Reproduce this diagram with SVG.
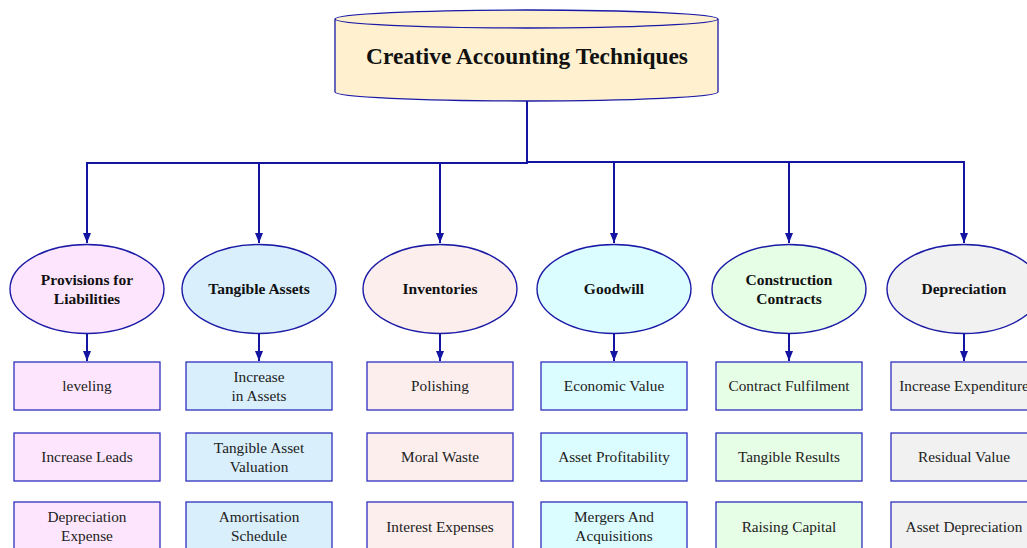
<svg xmlns="http://www.w3.org/2000/svg" width="1027" height="548" viewBox="0 0 1027 548">
<style>
.conn{fill:none;stroke:#1414a3;stroke-width:2}
.ell{stroke:#1a1aa6;stroke-width:1.4}
.box{stroke:#2f2fbd;stroke-width:1.3}
.c1{fill:#fde6fd}.c2{fill:#d9effc}.c3{fill:#fdeeee}.c4{fill:#dcfdff}.c5{fill:#e6fde6}.c6{fill:#f1f1f1}
</style>
<defs>
<marker id="ah" markerUnits="userSpaceOnUse" markerWidth="10" markerHeight="8" refX="10" refY="4" orient="auto">
<path d="M0,0 L10,4 L0,8 z" fill="#1414a3"/>
</marker>
</defs>
<rect width="1027" height="548" fill="#fff"/>
<g id="connectors">
<path class="conn" d="M527,101 V163 H87 V243" marker-end="url(#ah)"/>
<path class="conn" d="M527,163 H259 V243" marker-end="url(#ah)"/>
<path class="conn" d="M527,163 H440 V243" marker-end="url(#ah)"/>
<path class="conn" d="M527,162 H614 V243" marker-end="url(#ah)"/>
<path class="conn" d="M527,162 H789 V243" marker-end="url(#ah)"/>
<path class="conn" d="M527,162 H964 V243" marker-end="url(#ah)"/>
<path class="conn" d="M87,334 V361" marker-end="url(#ah)"/>
<path class="conn" d="M259,334 V361" marker-end="url(#ah)"/>
<path class="conn" d="M440,334 V361" marker-end="url(#ah)"/>
<path class="conn" d="M614,334 V361" marker-end="url(#ah)"/>
<path class="conn" d="M789,334 V361" marker-end="url(#ah)"/>
<path class="conn" d="M964,334 V361" marker-end="url(#ah)"/>
</g>
<g id="root">
<path d="M335,19 V92 A191.5,9 0 0 0 718,92 V19" fill="#fff1cf" stroke="#1a1aa6" stroke-width="1.3"/>
<ellipse cx="526.5" cy="19" rx="191.5" ry="9" fill="#fff1cf" stroke="#1a1aa6" stroke-width="1.3"/>
<text x="527" y="64" font-family="Liberation Serif" font-size="23.4" font-weight="bold" fill="#111" text-anchor="middle">Creative Accounting Techniques</text>
</g>
<g id="n1">
<ellipse class="ell c1" cx="87" cy="289" rx="77" ry="44.5"/>
<text x="87" y="285" font-family="Liberation Serif" font-size="15.5" font-weight="bold" fill="#111" text-anchor="middle">Provisions for</text>
<text x="87" y="304" font-family="Liberation Serif" font-size="15.5" font-weight="bold" fill="#111" text-anchor="middle">Liabilities</text>
</g>
<g id="n2">
<ellipse class="ell c2" cx="259" cy="289" rx="77" ry="44.5"/>
<text x="259" y="294" font-family="Liberation Serif" font-size="15.5" font-weight="bold" fill="#111" text-anchor="middle">Tangible Assets</text>
</g>
<g id="n3">
<ellipse class="ell c3" cx="440" cy="289" rx="77" ry="44.5"/>
<text x="440" y="294" font-family="Liberation Serif" font-size="15.5" font-weight="bold" fill="#111" text-anchor="middle">Inventories</text>
</g>
<g id="n4">
<ellipse class="ell c4" cx="614" cy="289" rx="77" ry="44.5"/>
<text x="614" y="294" font-family="Liberation Serif" font-size="15.5" font-weight="bold" fill="#111" text-anchor="middle">Goodwill</text>
</g>
<g id="n5">
<ellipse class="ell c5" cx="789" cy="289" rx="77" ry="44.5"/>
<text x="789" y="285" font-family="Liberation Serif" font-size="15.5" font-weight="bold" fill="#111" text-anchor="middle">Construction</text>
<text x="789" y="304" font-family="Liberation Serif" font-size="15.5" font-weight="bold" fill="#111" text-anchor="middle">Contracts</text>
</g>
<g id="n6">
<ellipse class="ell c6" cx="964" cy="289" rx="77" ry="44.5"/>
<text x="964" y="294" font-family="Liberation Serif" font-size="15.5" font-weight="bold" fill="#111" text-anchor="middle">Depreciation</text>
</g>
<g id="b1a"><rect class="box c1" x="14" y="362" width="146" height="48"/><text x="87" y="391" font-family="Liberation Serif" font-size="15.3" fill="#222" text-anchor="middle">leveling</text></g>
<g id="b1b"><rect class="box c1" x="14" y="433" width="146" height="48"/><text x="87" y="462" font-family="Liberation Serif" font-size="15.3" fill="#222" text-anchor="middle">Increase Leads</text></g>
<g id="b1c"><rect class="box c1" x="14" y="502" width="146" height="48"/><text x="87" y="522" font-family="Liberation Serif" font-size="15.3" fill="#222" text-anchor="middle">Depreciation</text><text x="87" y="541" font-family="Liberation Serif" font-size="15.3" fill="#222" text-anchor="middle">Expense</text></g>
<g id="b2a"><rect class="box c2" x="186" y="362" width="146" height="48"/><text x="259" y="382" font-family="Liberation Serif" font-size="15.3" fill="#222" text-anchor="middle">Increase</text><text x="259" y="401" font-family="Liberation Serif" font-size="15.3" fill="#222" text-anchor="middle">in Assets</text></g>
<g id="b2b"><rect class="box c2" x="186" y="433" width="146" height="48"/><text x="259" y="453" font-family="Liberation Serif" font-size="15.3" fill="#222" text-anchor="middle">Tangible Asset</text><text x="259" y="472" font-family="Liberation Serif" font-size="15.3" fill="#222" text-anchor="middle">Valuation</text></g>
<g id="b2c"><rect class="box c2" x="186" y="502" width="146" height="48"/><text x="259" y="522" font-family="Liberation Serif" font-size="15.3" fill="#222" text-anchor="middle">Amortisation</text><text x="259" y="541" font-family="Liberation Serif" font-size="15.3" fill="#222" text-anchor="middle">Schedule</text></g>
<g id="b3a"><rect class="box c3" x="367" y="362" width="146" height="48"/><text x="440" y="391" font-family="Liberation Serif" font-size="15.3" fill="#222" text-anchor="middle">Polishing</text></g>
<g id="b3b"><rect class="box c3" x="367" y="433" width="146" height="48"/><text x="440" y="462" font-family="Liberation Serif" font-size="15.3" fill="#222" text-anchor="middle">Moral Waste</text></g>
<g id="b3c"><rect class="box c3" x="367" y="502" width="146" height="48"/><text x="440" y="532" font-family="Liberation Serif" font-size="15.3" fill="#222" text-anchor="middle">Interest Expenses</text></g>
<g id="b4a"><rect class="box c4" x="541" y="362" width="146" height="48"/><text x="614" y="391" font-family="Liberation Serif" font-size="15.3" fill="#222" text-anchor="middle">Economic Value</text></g>
<g id="b4b"><rect class="box c4" x="541" y="433" width="146" height="48"/><text x="614" y="462" font-family="Liberation Serif" font-size="15.3" fill="#222" text-anchor="middle">Asset Profitability</text></g>
<g id="b4c"><rect class="box c4" x="541" y="502" width="146" height="48"/><text x="614" y="522" font-family="Liberation Serif" font-size="15.3" fill="#222" text-anchor="middle">Mergers And</text><text x="614" y="541" font-family="Liberation Serif" font-size="15.3" fill="#222" text-anchor="middle">Acquisitions</text></g>
<g id="b5a"><rect class="box c5" x="716" y="362" width="146" height="48"/><text x="789" y="391" font-family="Liberation Serif" font-size="15.3" fill="#222" text-anchor="middle">Contract Fulfilment</text></g>
<g id="b5b"><rect class="box c5" x="716" y="433" width="146" height="48"/><text x="789" y="462" font-family="Liberation Serif" font-size="15.3" fill="#222" text-anchor="middle">Tangible Results</text></g>
<g id="b5c"><rect class="box c5" x="716" y="502" width="146" height="48"/><text x="789" y="532" font-family="Liberation Serif" font-size="15.3" fill="#222" text-anchor="middle">Raising Capital</text></g>
<g id="b6a"><rect class="box c6" x="891" y="362" width="146" height="48"/><text x="964" y="391" font-family="Liberation Serif" font-size="15.3" fill="#222" text-anchor="middle">Increase Expenditure</text></g>
<g id="b6b"><rect class="box c6" x="891" y="433" width="146" height="48"/><text x="964" y="462" font-family="Liberation Serif" font-size="15.3" fill="#222" text-anchor="middle">Residual Value</text></g>
<g id="b6c"><rect class="box c6" x="891" y="502" width="146" height="48"/><text x="964" y="532" font-family="Liberation Serif" font-size="15.3" fill="#222" text-anchor="middle">Asset Depreciation</text></g>
</svg>
